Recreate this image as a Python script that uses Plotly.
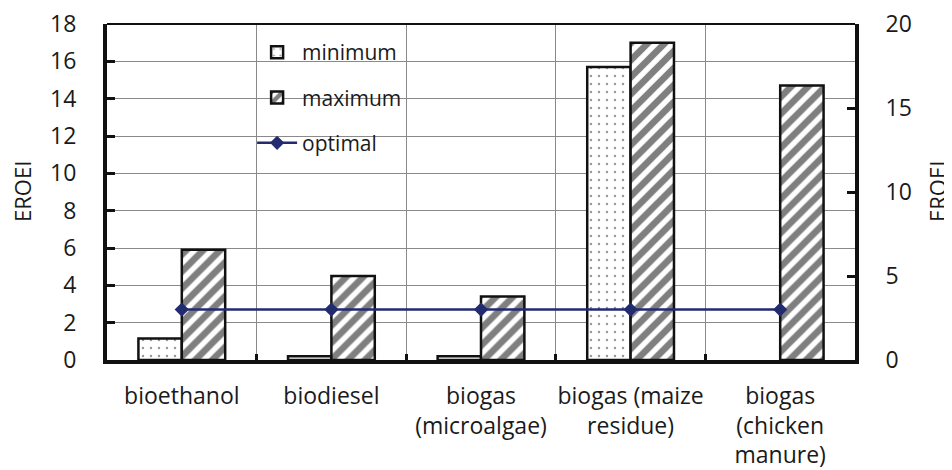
import plotly.graph_objects as go

categories = ["bioethanol", "biodiesel", "biogas<br>(microalgae)", "biogas (maize<br>residue)", "biogas<br>(chicken<br>manure)"]
minimum = [1.15, 0.2, 0.2, 15.7, None]
maximum = [5.9, 4.5, 3.4, 17.0, 14.7]
optimal = [3, 3, 3, 3, 3]
left_ticks = list(range(0, 19, 2))
right_ticks = [0, 5, 10, 15, 20]

FONT = "Open Sans"
TXT = "#1a1a1a"

# page has an 8px body margin: figure is placed at (8, 8)
W, H = 944, 462
L, T = 99, 16
PW, PH = 748, 336

fig = go.Figure()
fig.add_trace(go.Bar(
    x=categories, y=minimum, name="minimum", legendgroup="a",
    marker=dict(color="white", line=dict(color="#111", width=2.5),
                pattern=dict(shape=".", size=8, solidity=0.08, fgcolor="#333", bgcolor="white")),
    yaxis="y"))
fig.add_trace(go.Bar(
    x=categories, y=maximum, name="maximum", legendgroup="b",
    marker=dict(color="white", line=dict(color="#111", width=2.5),
                pattern=dict(shape="/", size=12, solidity=0.55, fgcolor="#000", bgcolor="white")),
    yaxis="y"))
fig.add_trace(go.Scatter(
    x=categories, y=optimal, name="optimal", legendgroup="c", mode="lines+markers",
    line=dict(color="#232B70", width=2.5),
    marker=dict(symbol="diamond", size=11, color="#232B70"),
    yaxis="y2"))

fig.update_layout(
    width=W, height=H,
    margin=dict(l=L, r=W - L - PW, t=T, b=H - T - PH, autoexpand=False),
    paper_bgcolor="white", plot_bgcolor="white",
    font=dict(family=FONT, size=22, color=TXT),
    barmode="group", bargap=0.42, bargroupgap=0,
    showlegend=True,
    legend=dict(x=0.194, y=0.976, xanchor="left", yanchor="top",
                bgcolor="rgba(0,0,0,0)", font=dict(size=21, color=TXT),
                traceorder="grouped", tracegroupgap=15, itemwidth=40),
    xaxis=dict(type="category", tickson="boundaries", showgrid=True, gridcolor="#8a8a8a", gridwidth=1,
               ticks="inside", ticklen=6, tickwidth=3, tickcolor="#111", tickangle=0, automargin=False,
               showline=True, linewidth=4, linecolor="#111", ticklabeloverflow="allow",
               tickfont=dict(size=23, color=TXT), ticklabelstandoff=12),
    yaxis=dict(range=[0, 18], tickvals=left_ticks, showgrid=True, gridcolor="#8a8a8a", gridwidth=1,
               zeroline=False, ticks="inside", ticklen=8, tickwidth=3, tickcolor="#111", automargin=False,
               showline=True, linewidth=4, linecolor="#111", ticklabeloverflow="allow",
               tickfont=dict(size=23, color=TXT), ticklabelstandoff=22),
    yaxis2=dict(range=[0, 20], tickvals=right_ticks, overlaying="y", side="right", showgrid=False,
                zeroline=False, ticks="inside", ticklen=8, tickwidth=3, tickcolor="#111", automargin=False,
                showline=True, linewidth=4, linecolor="#111", ticklabeloverflow="allow",
                tickfont=dict(size=23, color=TXT), ticklabelstandoff=22),
    shapes=[
        dict(type="line", xref="paper", yref="paper", x0=0, x1=1, y0=1, y1=1,
             line=dict(color="#111", width=2), layer="above"),
        dict(type="rect", xref="paper", yref="paper", x0=(212 - 107) / PW, x1=(437 - 107) / PW,
             y0=1 - (165 - 24) / PH, y1=0.997, fillcolor="white", line=dict(width=0), layer="between"),
    ],
    annotations=[
        dict(text="EROEI", xref="paper", yref="paper", x=(22 - 107) / PW, y=(360 - 192) / PH,
             showarrow=False, textangle=-90, font=dict(size=22, color=TXT), xanchor="center", yanchor="middle"),
        dict(text="EROEI", xref="paper", yref="paper", x=(937 - 107) / PW, y=(360 - 192) / PH,
             showarrow=False, textangle=-90, font=dict(size=22, color=TXT), xanchor="center", yanchor="middle"),
    ],
)

fig.write_html("out.html")
